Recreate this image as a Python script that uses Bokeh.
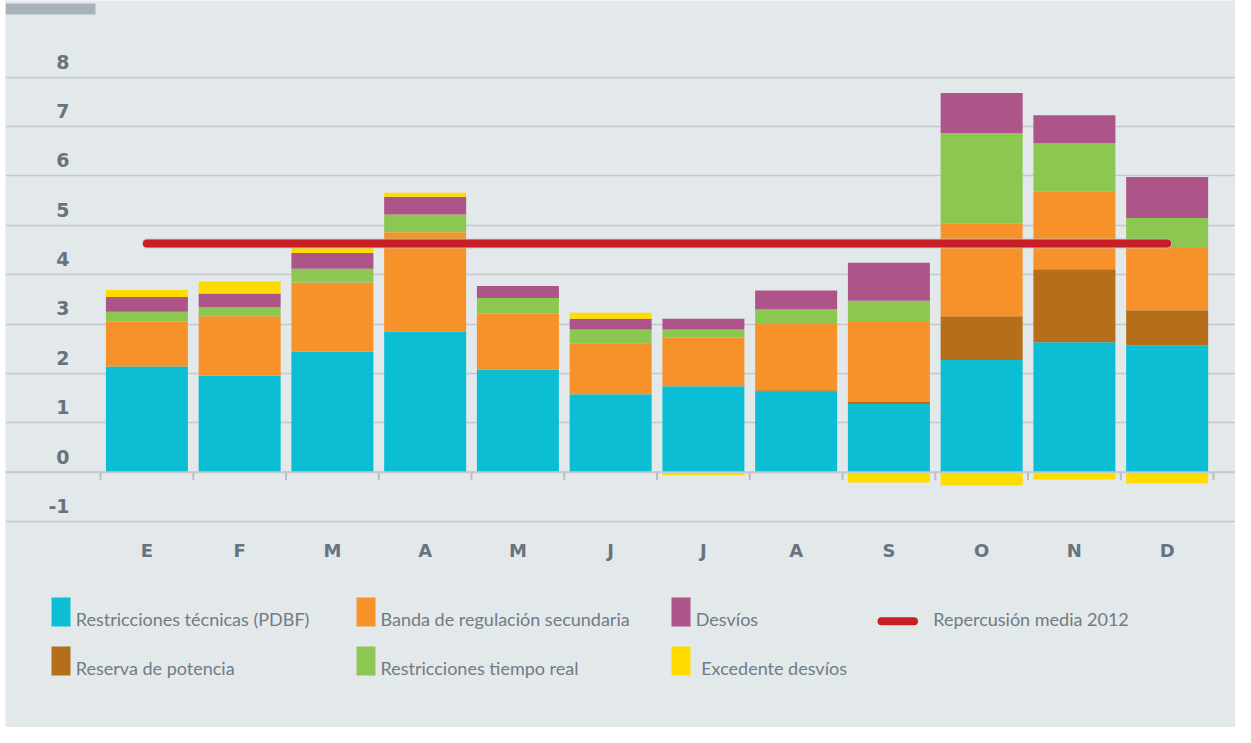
import numpy as np
from bokeh.plotting import figure
from bokeh.models import Range1d, Grid, FixedTicker, Span
from bokeh.core.properties import value
from bokeh.embed import file_html
from bokeh.resources import INLINE

# ---------------- data ----------------
months = ["E", "F", "M", "A", "M", "J", "J", "A", "S", "O", "N", "D"]
tecnicas = [2.14, 1.96, 2.44, 2.85, 2.08, 1.58, 1.74, 1.63, 1.38, 2.27, 2.63, 2.57]
reserva = [0.0, 0.0, 0.0, 0.0, 0.0, 0.0, 0.0, 0.03, 0.04, 0.89, 1.48, 0.71]
banda = [0.91, 1.20, 1.40, 2.01, 1.13, 1.03, 0.99, 1.34, 1.62, 1.87, 1.58, 1.28]
tiempo_real = [0.20, 0.18, 0.28, 0.36, 0.32, 0.28, 0.16, 0.30, 0.43, 1.84, 0.97, 0.59]
desvios = [0.30, 0.28, 0.32, 0.36, 0.24, 0.22, 0.22, 0.38, 0.77, 0.81, 0.57, 0.83]
excedente = [0.14, 0.24, 0.14, 0.08, 0.0, 0.12, -0.06, -0.02, -0.21, -0.27, -0.15, -0.23]
media_2012 = 4.63
y_ticks = [-1, 0, 1, 2, 3, 4, 5, 6, 7, 8]

series_names = ["Restricciones técnicas (PDBF)", "Reserva de potencia",
                "Banda de regulación secundaria", "Restricciones tiempo real",
                "Desvíos", "Excedente desvíos"]
media_name = "Repercusión media 2012"

# ---------------- style ----------------
BG = "#e3e8eb"
GRID = "#c4c8cb"
TXT = "#67747d"
LEG_TXT = "#6f7c85"
C_TEC = "#0cbed4"
C_RES = "#b56f1a"
C_BAN = "#f7922a"
C_TRE = "#8cc751"
C_DES = "#ad5488"
C_EXC = "#ffdc00"
C_MED = "#c81e25"
colors = [C_TEC, C_RES, C_BAN, C_TRE, C_DES, C_EXC]

W, H = 1235, 727
LEFT_PAD = 5
CAT_W = 92.75      # px per month
Y_PX = 49.375      # px per unit
X0_REF = 146.4     # px of first month centre
Y0_REF = 471.7     # px of zero
TXT_FIX = 8        # baseline correction, px


def fx(ref_px):
    return (ref_px - X0_REF) / CAT_W


def fy(ref_py):
    return (Y0_REF - ref_py) / Y_PX


def ty(ref_py):
    return fy(ref_py - TXT_FIX)


p = figure(width=W, height=H,
           x_range=Range1d(fx(LEFT_PAD), fx(W)),
           y_range=Range1d(fy(H), fy(0)),
           output_backend="svg", toolbar_location=None,
           x_axis_location=None, y_axis_location=None,
           min_border=0, min_border_left=LEFT_PAD,
           background_fill_color=BG, border_fill_color="white",
           outline_line_color=None)
p.xgrid.visible = False
p.ygrid.visible = False

grid = Grid(dimension=1, ticker=FixedTicker(ticks=y_ticks),
            grid_line_color=GRID, grid_line_width=1.5)
p.add_layout(grid)

# ---------------- stacked bars ----------------
x = np.arange(len(months))
BAR_W = 82 / CAT_W
pos_series = [tecnicas, reserva, banda, tiempo_real, desvios,
              [max(v, 0) for v in excedente]]
bottom = np.zeros(len(months))
for vals, col, name in zip(pos_series, colors, series_names):
    vals = np.array(vals, dtype=float)
    p.vbar(x=x, width=BAR_W, bottom=bottom, top=bottom + vals,
           fill_color=col, line_color=None)
    bottom = bottom + vals
neg = np.array([min(v, 0) for v in excedente])
p.vbar(x=x, width=BAR_W, bottom=np.zeros(len(months)), top=neg,
       fill_color=C_EXC, line_color=None)

# zero line and boundary ticks
p.add_layout(Span(location=0, dimension="width", line_color=GRID,
                  line_width=1.8, level="overlay"))
bounds = np.arange(len(months) + 1) - 0.5
p.segment(x0=bounds, y0=np.zeros(len(bounds)), x1=bounds,
          y1=np.full(len(bounds), -8 / Y_PX), line_color="#b8bdc1", line_width=2)

# average line
mx = [0, len(months) - 1]
p.line(x=mx, y=[media_2012, media_2012], line_color="#bcc2c6", line_width=10,
       line_cap="round", line_alpha=0.7)
p.line(x=mx, y=[media_2012, media_2012], line_color=C_MED, line_width=8,
       line_cap="round")

# ---------------- tick labels ----------------
p.text(x=[fx(69)] * len(y_ticks),
       y=[v + (7.7 + TXT_FIX) / Y_PX for v in y_ticks],
       text=[str(v) for v in y_ticks], text_font=value("DejaVu Sans"),
       text_font_style="bold", text_font_size="19px", text_color=TXT,
       text_align="right", text_baseline="alphabetic")
p.text(x=x, y=[ty(558)] * len(months), text=months,
       text_font=value("DejaVu Sans"), text_font_style="bold",
       text_font_size="18px", text_color=TXT, text_align="center",
       text_baseline="alphabetic")

# decorative title bar
p.quad(left=[fx(5)], right=[fx(95)], top=[fy(3)], bottom=[fy(14)],
       fill_color="#a7b3bb", line_color=None)

# ---------------- legend ----------------
sq_left = [51, 356, 671, 51, 356, 671]
sq_top = [597, 597, 597, 646, 646, 646]
txt_left = [75.3, 380, 695.3, 75.3, 380, 700.7]
leg_order = [0, 2, 4, 1, 3, 5]
for k, si in enumerate(leg_order):
    p.quad(left=[fx(sq_left[k])], right=[fx(sq_left[k] + 19)],
           top=[fy(sq_top[k])], bottom=[fy(sq_top[k] + 29)],
           fill_color=colors[si], line_color=None)
    p.text(x=[fx(txt_left[k])], y=[ty(sq_top[k] + 29)], text=[series_names[si]],
           text_font=value("Lato"), text_font_size="18px", text_color=LEG_TXT,
           text_align="left", text_baseline="alphabetic")
p.line(x=[fx(881), fx(913.5)], y=[fy(620.7), fy(620.7)], line_color=C_MED,
       line_width=8, line_cap="round")
p.text(x=[fx(932.7)], y=[ty(626.7)], text=[media_name], text_font=value("Lato"),
       text_font_size="18px", text_color=LEG_TXT, text_align="left",
       text_baseline="alphabetic")

open("out.html", "w").write(file_html(p, INLINE))
